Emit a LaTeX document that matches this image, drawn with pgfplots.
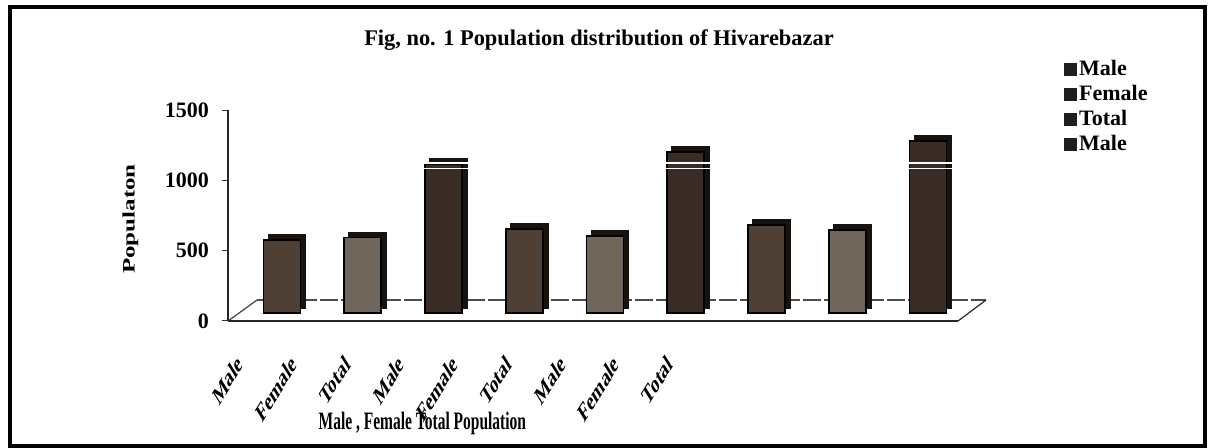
\documentclass[border=0pt]{standalone}
\usepackage{fontspec}
\setmainfont{Liberation Serif}
\usepackage{pgfplots}
\pgfplotsset{compat=1.18}
\definecolor{maleC}{RGB}{78,64,52}
\definecolor{femaleC}{RGB}{112,102,92}
\definecolor{totalC}{RGB}{56,44,36}
\definecolor{topC}{RGB}{24,19,15}
\pgfplotsset{
  frontbar/.style={ybar, bar width=18.5pt, bar shift=0pt, draw=black, line width=0.9pt, xshift=5.5pt, yshift=4pt,
    legend image code/.code={\fill[black!88] (-5.5pt,-6.8pt) rectangle (0pt,-1.2pt);}},
  backbar/.style={ybar, bar width=18.5pt, bar shift=0pt, fill=topC, draw=topC, line width=0.9pt, xshift=8pt, yshift=6.5pt, forget plot},
}
\begin{document}
\begin{tikzpicture}
\path (-135.5pt,-63.5pt) rectangle (468.5pt,160.5pt);
\draw[line width=2.2pt] (-130.5pt,-62.4pt) rectangle (467pt,157pt);
\begin{axis}[
  set layers,
  anchor=origin,
  x=40.375pt, y=0.0703333pt,
  xmin=-0.532, xmax=8.508, ymin=0, ymax=1500,
  axis lines*=left,
  axis line style={black!85, line width=0.6pt},
  clip=false,
  ytick={0,500,1000,1500},
  tick align=outside, major tick length=3pt,
  ytick style={black!80, line width=0.5pt},
  /pgf/number format/assume math mode=true,
  /pgf/number format/1000 sep={},
  yticklabel style={font=\bfseries\fontsize{11}{12}\selectfont, xshift=-3pt},
  xtick={-0.347,0.319,0.984,1.650,2.315,2.981,3.647,4.312,4.978},
  xticklabels={Male,Female,Total,Male,Female,Total,Male,Female,Total},
  xtick style={draw=none},
  xticklabel style={font=\bfseries\fontsize{13}{15}\selectfont, yshift=-14pt, xscale=0.62, rotate=45, anchor=east},
  title={Fig, no. 1 Population distribution of Hivarebazar},
  every axis title/.style={at={(axis description cs:0.567,1.331)}, anchor=center, font=\bfseries\fontsize{11.2}{13}\selectfont},
  xlabel={Male , Female Total Population},
  every axis x label/.style={at={(axis description cs:0.325,-0.488)}, anchor=center, font=\bfseries\fontsize{12.5}{14}\selectfont, xscale=0.62},
  ylabel={Populaton},
  every axis y label/.style={at={(axis description cs:-0.075,0.483)}, anchor=center, font=\bfseries\fontsize{12.5}{14}\selectfont, xscale=0.7, rotate=90},
  legend style={draw=none, fill=none, at={(axis description cs:1.204,1.251)}, anchor=north west,
    font=\bfseries\fontsize{11}{12}\selectfont, inner sep=0pt, row sep=0pt,
    nodes={text height=8pt, text depth=2.5pt, inner sep=1pt}},
  legend cell align=left,
]
\begin{pgfonlayer}{axis background}
\draw[black!75, line width=0.6pt] (axis cs:-0.532,0) -- ++(14.5pt,10.5pt);
\draw[black!70, line width=0.55pt, dash pattern=on 9pt off 1.5pt] ([xshift=14.5pt,yshift=10.5pt]axis cs:-0.532,0) -- ([xshift=14pt,yshift=10.5pt]axis cs:8.508,0);
\draw[black!85, line width=0.6pt] (axis cs:8.508,0) -- ++(14pt,10.5pt);
\end{pgfonlayer}
% back (top and side faces)
\addplot[backbar] coordinates {(0,520) (3,597) (6,628)};
\addplot[backbar] coordinates {(1,537) (4,545) (7,592)};
\addplot[backbar] coordinates {(2,1057) (5,1142) (8,1220)};
% front faces
\addplot[frontbar, fill=maleC] coordinates {(0,520) (3,597) (6,628)};
\addplot[frontbar, fill=femaleC] coordinates {(1,537) (4,545) (7,592)};
\addplot[frontbar, fill=totalC] coordinates {(2,1057) (5,1142) (8,1220)};
\addlegendentry{Male}
\addlegendentry{Female}
\addlegendentry{Total}
\addlegendimage{frontbar, fill=maleC}
\addlegendentry{Male}
\draw[white, line width=0.7pt] (axis cs:-0.3,1085) -- (axis cs:8.45,1085);
\draw[white, line width=0.7pt] (axis cs:-0.3,1122) -- (axis cs:8.45,1122);
\end{axis}
\end{tikzpicture}
\end{document}
